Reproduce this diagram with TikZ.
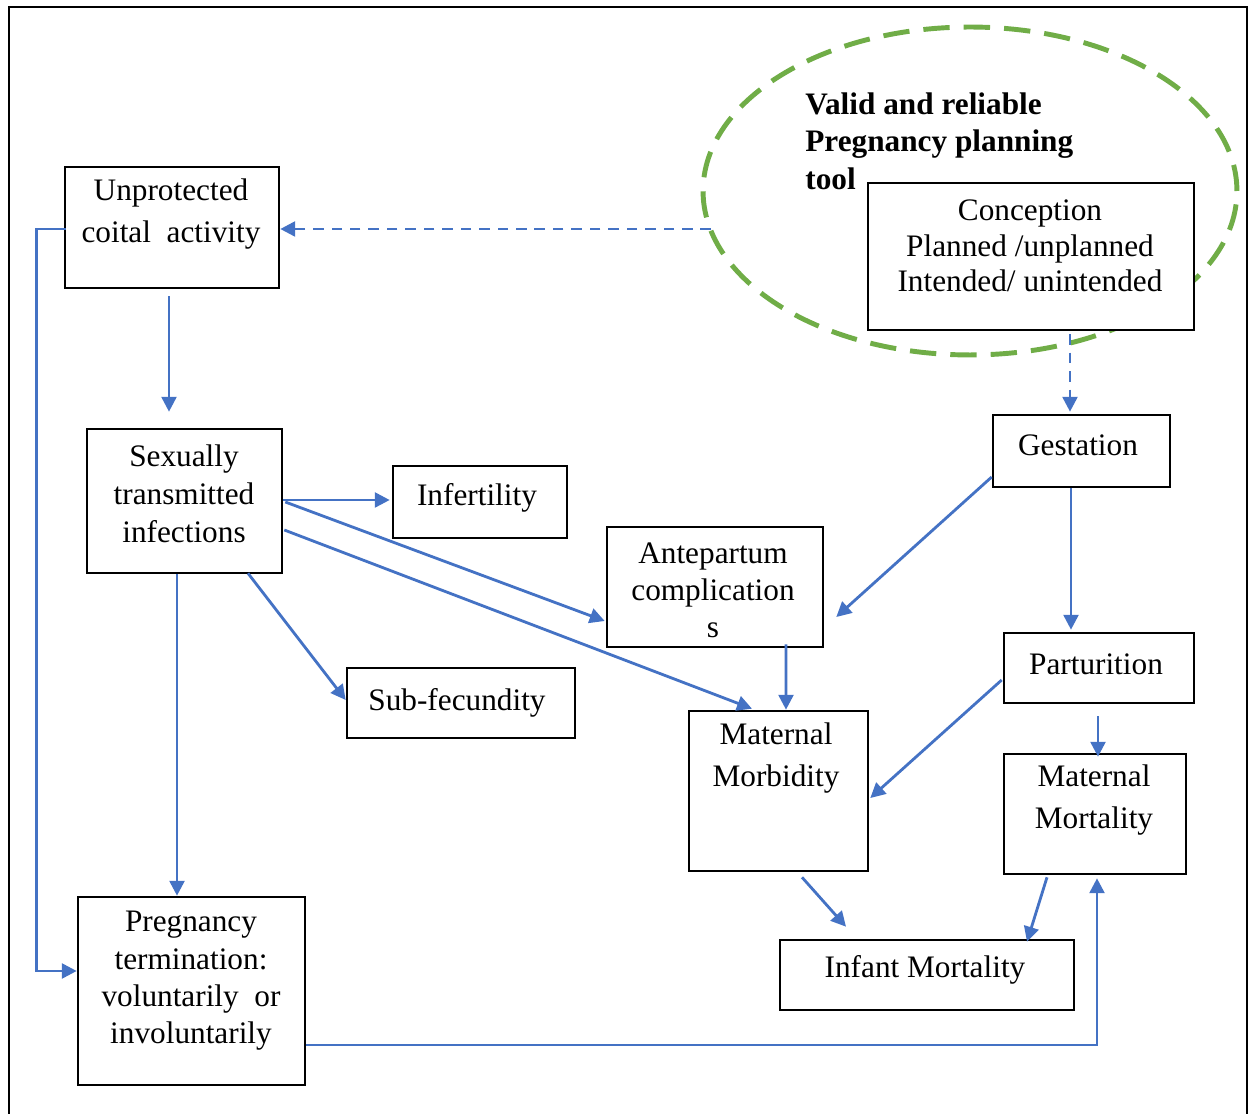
\documentclass[tikz,border=0pt]{standalone}
\usepackage{fontspec}
\setmainfont{Liberation Serif}
\usetikzlibrary{arrows.meta,calc,shapes.geometric}
\definecolor{lblue}{HTML}{4472C4}
\definecolor{lgreen}{HTML}{70AD47}
\tikzset{
  box/.style={draw=black,line width=1.5pt,fill=white,rectangle,inner sep=0pt},
  txt/.style={align=center,inner sep=0pt,font=\fontsize{17.8}{#1}\selectfont},
  txt/.default=21.5,
  arr/.style={draw=lblue,line width=1.6pt,-{Triangle[length=8.5pt,width=8.5pt]}},
  darr/.style={arr,dash pattern=on 6pt off 4.5pt},
}
\begin{document}
\begin{tikzpicture}[x=0.02cm,y=-0.02cm]
\useasboundingbox (0,0) rectangle (1252,1114);
% outer frame
\draw[line width=1.5pt] (9,1114) -- (9,7) -- (1247,7) -- (1247,1114);
% tool ellipse
\node[ellipse,draw=lgreen,line width=2.8pt,dash pattern=on 15pt off 8pt,
      minimum width=10.68cm,minimum height=6.56cm,inner sep=0pt] (tool) at (970,191) {};
\node[anchor=west,align=left,inner sep=0pt,font=\fontsize{17.8}{21.3}\selectfont\bfseries] (tooltxt) at (805,141)
  {Valid and reliable\\Pregnancy planning\\tool};
\coordinate (dstart) at (711,229);
% boxes
\node[box,minimum width=4.28cm,minimum height=2.42cm] (unp) at (172,227.5) {};
\node[txt=24.2] (unpt) at (171,214) {Unprotected\\coital~~activity};
\node[box,minimum width=3.9cm,minimum height=2.88cm] (sti) at (184.5,501) {};
\node[txt=21.8] (stit) at (184,494) {Sexually\\transmitted\\infections};
\node[box,minimum width=3.48cm,minimum height=1.44cm] (inf) at (480,502) {};
\node[txt] (inft) at (477,498) {Infertility};
\node[box,minimum width=4.32cm,minimum height=2.4cm] (ante) at (715,587) {};
\node[txt=21] (antet) at (713,590) {Antepartum\\complication\\s};
\node[box,minimum width=4.56cm,minimum height=1.4cm] (subf) at (461,703) {};
\node[txt] (subft) at (457,703) {Sub-fecundity};
\node[box,minimum width=3.58cm,minimum height=3.2cm] (mmorb) at (778.5,791) {};
\node[txt=23.8] (mmorbt) at (776,758) {Maternal\\Morbidity};
\node[box,minimum width=6.52cm,minimum height=2.94cm] (conc) at (1031,256.5) {};
\node[txt=20.2] (conct) at (1030,246) {Conception\\Planned /unplanned\\Intended/ unintended};
\node[box,minimum width=3.54cm,minimum height=1.44cm] (gest) at (1081.5,451) {};
\node[txt] (gestt) at (1078,445) {Gestation};
\node[box,minimum width=3.8cm,minimum height=1.4cm] (part) at (1099,668) {};
\node[txt] (partt) at (1096,664) {Parturition};
\node[box,minimum width=3.64cm,minimum height=2.4cm] (mmort) at (1095,814) {};
\node[txt=24.4] (mmortt) at (1094,800) {Maternal\\Mortality};
\node[box,minimum width=5.88cm,minimum height=1.4cm] (infm) at (927,975) {};
\node[txt] (infmt) at (925,970) {Infant Mortality};
\node[box,minimum width=4.54cm,minimum height=3.76cm] (preg) at (191.5,991) {};
\node[txt=21.2] (pregt) at (191,981) {Pregnancy\\termination:\\voluntarily~~or\\involuntarily};
% connectors
\draw[darr] (dstart) -- (dstart -| unp.east);
\draw[arr] ($(unp.south)+(-3,7)$) -- ($(sti.north)+(-15.5,-16)$);
\draw[arr] ($(unp.west)+(2,1.5)$) -- ++(-29,0) |- ($(preg.west)+(0,-20)$);
\draw[arr] ($(sti.east)+(0,-1)$) -- ($(inf.west)+(-2,-2)$);
\draw[arr] ($(sti.east)+(2,1)$) -- ($(ante.west)+(-1,34)$);
\draw[arr] ($(sti.east)+(1,29)$) -- ($(mmorb.north)+(-26.5,-1)$);
\draw[arr] ($(sti.south)+(63.5,-1)$) -- ($(subf.west)+(0,-3)$);
\draw[arr] ($(sti.south)+(-7.5,0)$) -- ($(preg.north)+(-14.5,0)$);
\draw[darr] ($(conc.south)+(39,3)$) -- ($(gest.north)+(-11.5,-2)$);
\draw[arr] ($(gest.west)+(0,26)$) -- ($(ante.east)+(12,30)$);
\draw[arr] ($(gest.south)+(-10.5,0)$) -- ($(part.north)+(-28,-2)$);
\draw[arr] ($(ante.south)+(71,-4)$) -- ($(mmorb.north)+(7.5,0)$);
\draw[arr] ($(part.west)+(-1,12)$) -- ($(mmorb.east)+(1,7)$);
\draw[arr] ($(part.south)+(-1,12)$) -- ($(mmort.north)+(3,4)$);
\draw[arr] ($(mmorb.south)+(23.5,5)$) -- ($(infm.north)+(-81,-12)$);
\draw[arr] ($(mmort.south)+(-48,2)$) -- ($(infm.north)+(100,3)$);
\draw[arr] ($(preg.east)+(0,54)$) -| ($(mmort.south)+(2,3)$);
\end{tikzpicture}
\end{document}
